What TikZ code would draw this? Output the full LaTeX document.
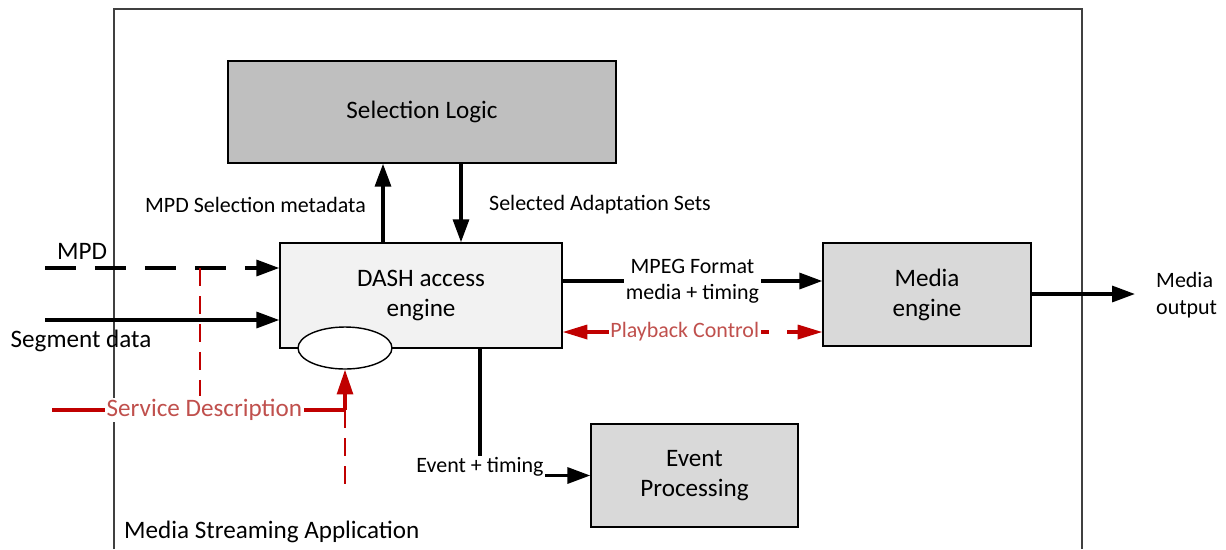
\documentclass[tikz,border=0pt]{standalone}
\usepackage{fontspec}
\setmainfont{Carlito}
\usetikzlibrary{arrows.meta,shapes.geometric}
\definecolor{selgray}{RGB}{191,191,191}
\definecolor{dashgray}{RGB}{242,242,242}
\definecolor{medgray}{RGB}{217,217,217}
\definecolor{ctrlred}{RGB}{192,0,0}
\definecolor{ctrltext}{RGB}{192,80,77}
\definecolor{framegray}{RGB}{64,64,64}

\begin{document}
\begin{tikzpicture}[x=0.02cm,y=-0.02cm,
    blk/.style={draw,line width=0.8pt,align=center,font=\fontsize{14.3}{17}\selectfont},
    txt/.style={font=\fontsize{14.3}{17}\selectfont},
    lbl/.style={font=\fontsize{12.5}{15}\selectfont},
    arr/.style={line width=2pt,-{Triangle[length=13pt,width=9pt]}},
    ctrl/.style={draw=ctrlred,line width=1.8pt},
    ctrltip/.style={-{Triangle[length=14pt,width=9pt]}},
    dashpat/.style={line width=1.2pt,dash pattern=on 0.36cm off 0.2cm}]
   \useasboundingbox (0,0) rectangle (1226,549);
   % frame of the application
   \draw[framegray,line width=0.9pt] (114,549) -- (114,9) -- (1082,9) -- (1082,549);
   \node[txt,anchor=west] (app) at (118,532) {Media Streaming Application};
   % blocks
   \node[blk,fill=selgray,minimum width=7.76cm,minimum height=2.04cm] (sellogic) at (422,112) {Selection Logic};
   \node[blk,fill=dashgray,minimum width=5.64cm,minimum height=2.1cm] (dash) at (421,295.5) {DASH access\\engine};
   \node[draw,ellipse,line width=0.8pt,fill=white,minimum width=1.88cm,minimum height=0.84cm] (sd) at (345,348) {};
   \node[blk,fill=medgray,minimum width=4.16cm,minimum height=2.06cm] (media) at (927,294.5) {Media\\engine};
   \node[blk,fill=medgray,minimum width=4.14cm,minimum height=2.06cm] (event) at (694.5,475.5) {Event\\Processing};
   % dash engine <-> selection logic
   \draw[arr] (dash.north -| 383,0) -- (sellogic.south -| 383,0);
   \draw[arr] (sellogic.south -| 461,0) -- (dash.north -| 461,0);
   \node[lbl,anchor=east] (mpdsel) at (372,205) {MPD Selection metadata};
   \node[lbl,anchor=west] (adsets) at (483,205) {Selected Adaptation Sets};
   % inputs
   \coordinate (mpdin) at (45,268);
   \coordinate (segin) at (45,320);
   \draw[arr,dash pattern=on 0.62cm off 0.38cm] (mpdin) -- (dash.west |- mpdin);
   \draw[arr] (segin) -- (dash.west |- segin);
   \node[txt] (mpd) at (82,251) {MPD};
   \node[txt] (seg) at (81,341) {Segment data};
   % service description
   \coordinate (sdl) at (52,410);
   \coordinate (sdk) at (345,410);
   \coordinate (sdb) at (345,490);
   \draw[ctrl] (sdl) -- node[txt,fill=white,text=ctrltext,inner sep=1pt,pos=0.52] (sdtxt) {Service Description} (sdk);
   \draw[ctrl,ctrltip] (sdk) -- (sd.south);
   \draw[ctrl,dashpat] (sdk) -- (sdb);
   \draw[ctrl,dashpat] (mpdin -| 200,0) -- (sdtxt.north -| 200,0);
   % outputs of the dash engine
   \draw[arr] (dash.east |- 0,281) -- node[lbl,fill=white,align=center,inner sep=1pt] (mpeg) {MPEG Format\\media + timing} (media.west |- 0,281);
   \draw[ctrl,{Triangle[length=14pt,width=8pt]}-{Triangle[length=14pt,width=8pt]},dash pattern=on 3.66cm off 0.36cm]
      (dash.east |- 0,332) -- node[lbl,fill=white,text=ctrltext,inner sep=1pt,pos=0.47] (play) {Playback Control} (media.west |- 0,332);
   \draw[arr] (dash.south -| 480,0) |- (event.west);
   \node[lbl,fill=white,inner sep=1pt] (evt) at (480,467) {Event + timing};
   % media output
   \coordinate (mout) at (1135,294);
   \draw[arr] (media.east |- mout) -- (mout);
   \node[lbl,anchor=west,align=left] (outlbl) at (1150,295) {Media\\output};
\end{tikzpicture}
\end{document}
